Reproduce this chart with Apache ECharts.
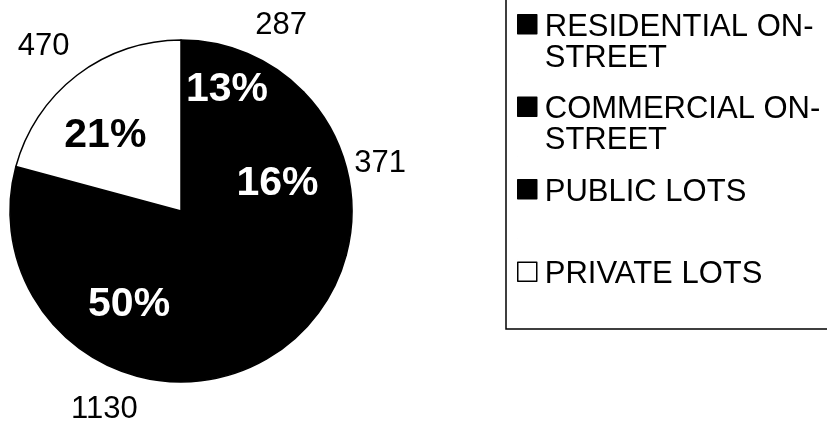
<!DOCTYPE html>
<html>
<head>
<meta charset="utf-8">
<script src="https://cdn.jsdelivr.net/npm/echarts@6/dist/echarts.min.js"></script>
<style>
  html, body { margin: 0; padding: 0; background: #fff; }
  #chart { width: 827px; height: 421px; }
</style>
</head>
<body>
<div id="chart"></div>
<script>
// slices, clockwise from 12 o'clock
const names = ['RESIDENTIAL ON-STREET', 'COMMERCIAL ON-STREET', 'PUBLIC LOTS', 'PRIVATE LOTS']
const legendText = ['RESIDENTIAL ON-\nSTREET', 'COMMERCIAL ON-\nSTREET', 'PUBLIC LOTS\n ', 'PRIVATE LOTS\n ']
const values = [287, 371, 1130, 470]
const sliceColors = ['#000', '#000', '#000', '#fff']
const pctColors = ['#fff', '#fff', '#fff', '#000']

// small nudges so labels sit where the original put them
const pctOffset = [[4, -22], [-8, 0], [-24, -11], [-10, 10]]
const valOffset = [[18, 9], [-5, 6], [-22, -5], [-9, 3]]

const font = '"Liberation Sans", Arial, sans-serif'
const total = values.reduce((a, b) => a + b, 0)

const chart = echarts.init(document.getElementById('chart'), null, { renderer: 'canvas' })
chart.setOption({
  animation: false,
  backgroundColor: '#fff',
  legend: {
    orient: 'vertical',
    left: 506,
    top: -9,
    padding: [20, 40, 7, 11],
    borderColor: '#000',
    borderWidth: 1.5,
    itemWidth: 19,
    itemHeight: 62,
    itemGap: 19,
    selectedMode: false,
    icon: 'path://M0,0L0.01,0M0,3L19,3L19,22L0,22ZM0,62L0.01,62',
    itemStyle: { borderColor: '#000', borderWidth: 1.5 },
    data: names,
    formatter: (name) => legendText[names.indexOf(name)],
    textStyle: {
      fontFamily: font,
      fontSize: 31,
      lineHeight: 31,
      color: '#000',
      padding: [0, 0, 0, 3]
    }
  },
  series: [
    {
      type: 'pie',
      silent: true,
      center: [181, 211],
      radius: 171,
      startAngle: 90,
      clockwise: true,
      label: { show: false },
      labelLine: { show: false },
      itemStyle: { borderColor: '#000', borderWidth: 1.5 },
      data: names.map((n, i) => ({ name: n, value: values[i], itemStyle: { color: sliceColors[i] } }))
    },
    {
      // percent labels inside the slices
      type: 'pie',
      silent: true,
      center: [181, 211],
      radius: [0, 210],
      startAngle: 90,
      clockwise: true,
      itemStyle: { color: 'transparent', borderWidth: 0 },
      labelLine: { show: false },
      data: names.map((n, i) => ({
        name: n,
        value: values[i],
        label: {
          show: true,
          position: 'inside',
          color: pctColors[i],
          fontFamily: font,
          fontWeight: 'bold',
          fontSize: 41,
          offset: pctOffset[i],
          formatter: () => Math.round(values[i] / total * 100) + '%'
        }
      }))
    },
    {
      // raw counts outside the pie
      type: 'pie',
      silent: true,
      center: [181, 211],
      radius: [190, 226],
      startAngle: 90,
      clockwise: true,
      itemStyle: { color: 'transparent', borderWidth: 0 },
      labelLine: { show: false },
      data: names.map((n, i) => ({
        name: n,
        value: values[i],
        label: {
          show: true,
          position: 'inside',
          color: '#000',
          fontFamily: font,
          fontSize: 31,
          offset: valOffset[i],
          formatter: '{c}'
        }
      }))
    }
  ]
})
</script>
</body>
</html>
